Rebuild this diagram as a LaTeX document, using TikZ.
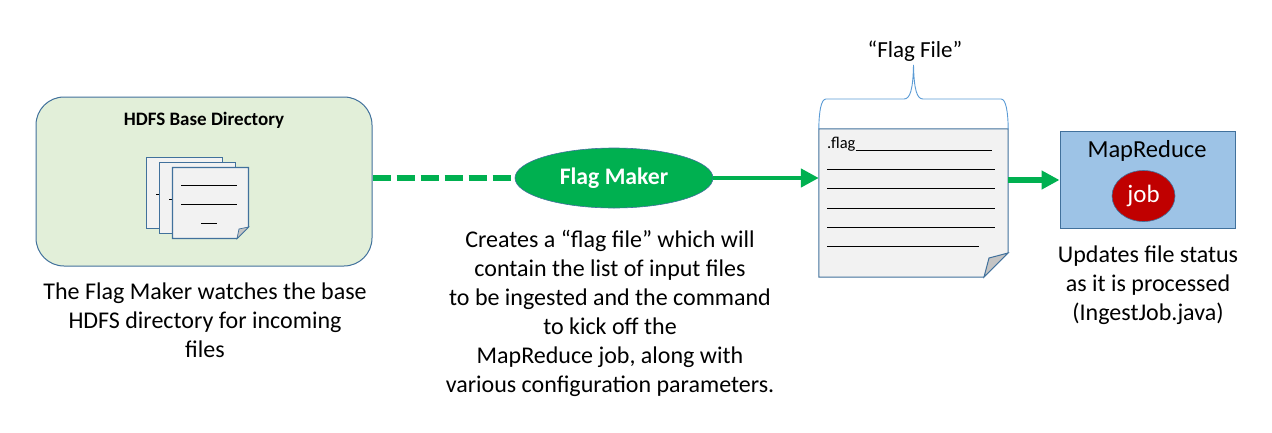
\documentclass[tikz,border=0pt]{standalone}
\usepackage{fontspec}
\setmainfont{Carlito}
\usetikzlibrary{shapes.geometric,arrows.meta}
\definecolor{edgeblue}{HTML}{41719C}
\definecolor{bracecol}{HTML}{5B9BD5}
\definecolor{boxgreen}{HTML}{E2EFD9}
\definecolor{flaggreen}{HTML}{00B050}
\definecolor{pagefill}{HTML}{F2F2F2}
\definecolor{foldfill}{HTML}{C4C4C4}
\definecolor{mrblue}{HTML}{9DC3E6}
\definecolor{jobred}{HTML}{C00000}
\tikzset{
 x=1pt,y=-1pt,
 txt/.style={font=\fontsize{24}{29}\selectfont,align=center,inner sep=0,text=black},
 sheet/.style={draw=edgeblue,line width=1.4pt,fill=pagefill,line join=miter},
 fold/.style={draw=edgeblue,line width=1pt,fill=foldfill},
 rule/.style={black,line width=1pt},
 place/.style={inner sep=0,minimum width=#1},
 flow/.style={flaggreen,line width=4.5pt},
 tip/.style={-{Triangle[length=18pt,width=18pt]}},
}
\begin{document}
\begin{tikzpicture}
\useasboundingbox (0,0) rectangle (1272,432);
% base directory
\node[draw=edgeblue,line width=1pt,fill=boxgreen,rounded corners=28pt,minimum width=336pt,minimum height=169pt,inner sep=0] (base) at (204,181.5) {};
\node[inner sep=0,font=\fontsize{19}{22}\selectfont\bfseries] (basetitle) at (204,120.5) {HDFS Base Directory};
% stacked files
\draw[sheet] (146.5,157.5) rectangle (222.5,228.5);
\draw[rule] (156,194) -- (160,194);
\draw[sheet] (159.5,162.5) rectangle (235.5,233.5);
\draw[rule] (169,199) -- (173,199);
\draw[sheet] (172.5,167.5) -- (248.5,167.5) -- (248.5,227) -- (237,238.5) -- (172.5,238.5) -- cycle;
\draw[fold,line width=.7pt] (237,238.5) -- (239,229) -- (248.5,227) -- cycle;
\draw[rule] (181,185) -- (237,185);
\draw[rule] (181,204) -- (237,204);
\draw[rule] (201,223) -- (217,223);
\node[txt] (basetext) at (205,320.5) {The Flag Maker watches the base\\HDFS directory for incoming\\files};
% flag maker
\node[ellipse,draw=edgeblue,line width=.6pt,fill=flaggreen,minimum width=198pt,minimum height=60pt,inner sep=0,text=white,font=\fontsize{23.7}{27}\selectfont\bfseries] (maker) at (614,178) {Flag Maker};
\node[txt] (makertext) at (610,313.5) {Creates a “flag file” which will\\contain the list of input files\\to be ingested and the command\\to kick off the\\MapReduce job, along with\\various configuration parameters.};
% flag file
\node[place=189pt,minimum height=148pt] (doc) at (913.5,203) {};
\draw[sheet,line width=1pt] (doc.north west) -- (doc.north east) -- (1008,253) -- (984,277) -- (doc.south west) -- cycle;
\draw[fold] (984,277) -- (989,258) -- (1008,253) -- cycle;
\draw[bracecol,line width=.9pt] (doc.north west) .. controls (819,112) and (821,99) .. (826,99) -- (904,99) .. controls (910,99) and (913,90) .. (913.5,65) .. controls (914,90) and (917,99) .. (923,99) -- (1001,99) .. controls (1006,99) and (1008,112) .. (doc.north east);
\node[txt,font=\fontsize{23}{28}\selectfont] (flaglabel) at (915,51) {“Flag File”};
\node[anchor=west,inner sep=0,font=\fontsize{16.5}{20}\selectfont] (dotflag) at (827,144) {.flag};
\draw[rule] (dotflag.east |- 0,150) -- (992,150);
\foreach \yy in {169,188,208,227}{\draw[rule] (827,\yy) -- (995,\yy);}
\draw[rule] (827,246) -- (979,246);
% map reduce
\node[draw=edgeblue,line width=1pt,fill=mrblue,minimum width=175pt,minimum height=97pt,inner sep=0] (mr) at (1147.5,180) {};
\node[txt,font=\fontsize{24.5}{29}\selectfont] (mrlabel) at (1147,151) {MapReduce};
\node[ellipse,draw=edgeblue,line width=.6pt,fill=jobred,minimum width=63pt,minimum height=51pt,inner sep=0,text=white,font=\fontsize{25}{29}\selectfont] (job) at (1143.5,196) {job};
\node[txt] (mrtext) at (1148,285) {Updates file status\\as it is processed\\(IngestJob.java)};
% connectors
\draw[flaggreen,line width=5.5pt,dash pattern=on 18pt off 6pt] (base.east |- maker.west) -- (maker.west);
\draw[flow,tip] (maker.east) -- (maker.east -| doc.west);
\draw[flow,line width=6pt,tip] (mr.west -| doc.east) -- (mr.west);
\end{tikzpicture}
\end{document}
